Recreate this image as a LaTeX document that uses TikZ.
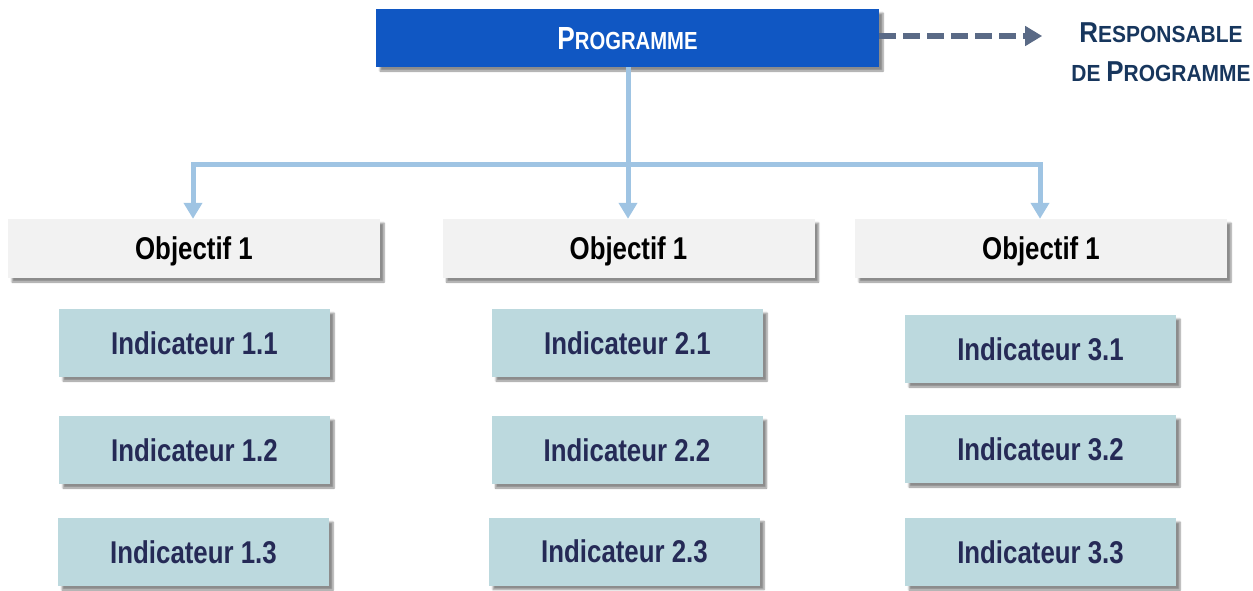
\documentclass[tikz,border=0pt]{standalone}
\usepackage{fontspec}
\newfontfamily\narrow[FakeStretch=0.82]{Liberation Sans}
\newfontfamily\respfont[FakeStretch=0.9]{Liberation Sans}
\usetikzlibrary{arrows.meta,shadows.blur}
\definecolor{progblue}{HTML}{1057C3}
\definecolor{objgray}{HTML}{F2F2F2}
\definecolor{indfill}{HTML}{BCD9DE}
\definecolor{indtext}{HTML}{252A56}
\definecolor{resptext}{HTML}{17365D}
\definecolor{dashcol}{HTML}{5A6A86}
\definecolor{conncol}{HTML}{9FC4E3}
\newcommand\twosize[4]{{\fontsize{#1}{#1}\selectfont #3}{\fontsize{#2}{#2}\selectfont #4}}
\tikzset{
  shad/.style={blur shadow={shadow xshift=4pt,shadow yshift=-4pt,shadow blur steps=6,shadow blur extra rounding=0pt,shadow opacity=45}},
  progbox/.style={shad,fill=progblue,minimum width=503pt,minimum height=58pt,inner sep=0pt,text height=23pt,text depth=0pt,text=white,font=\narrow\bfseries},
  objbox/.style={shad,fill=objgray,minimum width=372pt,minimum height=59pt,inner sep=0pt,text height=22.5pt,text depth=-2pt,text=black,font=\narrow\bfseries\fontsize{31.5}{36}\selectfont},
  indbox/.style={shad,fill=indfill,minimum width=271pt,minimum height=68pt,inner sep=0pt,text height=22.5pt,text depth=0pt,text=indtext,font=\narrow\bfseries\fontsize{31.5}{36}\selectfont},
  resplabel/.style={align=center,inner sep=0pt,text=resptext,font=\respfont\bfseries\fontsize{23.3}{39}\selectfont},
  conn/.style={draw=conncol,line width=5pt,-{Triangle[width=18pt,length=16pt]}},
  dasharrow/.style={draw=dashcol,line width=6pt,dash pattern=on 17pt off 7pt,-{Triangle[width=19pt,length=17pt]}}
}
\begin{document}
\begin{tikzpicture}[x=1pt,y=-1pt]
\useasboundingbox (0,0) rectangle (1253,590);
\node[progbox] (prog) at (627.5,38) {\twosize{32}{24.7}{P}{ROGRAMME}};
\node[resplabel] (resp) at (1161,52.5) {\twosize{28.8}{23.3}{R}{ESPONSABLE}\\\twosize{28.8}{23.3}{}{DE }\twosize{28.8}{23.3}{P}{ROGRAMME}};

\node[objbox] (obj1) at (194,248.5) {Objectif 1};
\node[objbox] (obj2) at (628.5,248.5) {Objectif 1};
\node[objbox] (obj3) at (1041,248.5) {Objectif 1};

\node[indbox] (i11) at (194.5,343) {Indicateur 1.1};
\node[indbox] (i12) at (194.5,450) {Indicateur 1.2};
\node[indbox] (i13) at (193.5,552) {Indicateur 1.3};
\node[indbox] (i21) at (627.5,343) {Indicateur 2.1};
\node[indbox] (i22) at (627,450) {Indicateur 2.2};
\node[indbox] (i23) at (624.5,551.5) {Indicateur 2.3};
\node[indbox] (i31) at (1040.5,349) {Indicateur 3.1};
\node[indbox] (i32) at (1040.5,449) {Indicateur 3.2};
\node[indbox] (i33) at (1040.5,552) {Indicateur 3.3};

\coordinate (hub) at (628,164);
\draw[conn] (prog.south -| hub) -- (obj2.north -| hub);
\draw[conn] (hub) -| ([xshift=-1pt]obj1.north);
\draw[conn] (hub) -| ([xshift=-1pt]obj3.north);
\draw[dasharrow,shorten >=29pt] ([yshift=2pt]prog.east) -- ([yshift=2pt]prog.east -| resp.west);
\end{tikzpicture}
\end{document}
